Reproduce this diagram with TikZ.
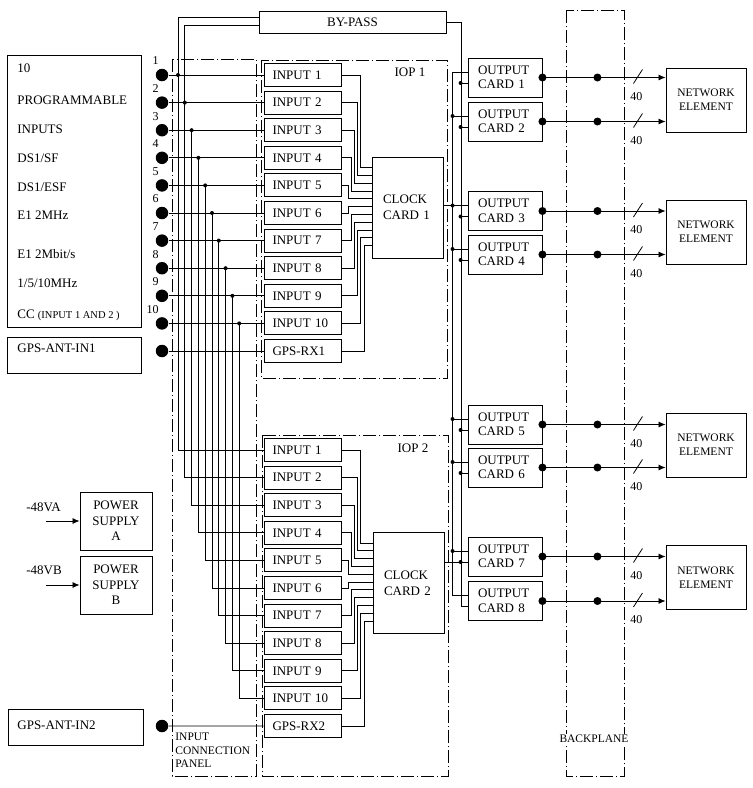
\documentclass[tikz,border=0pt]{standalone}
\usepackage{fontspec}
\setmainfont{Liberation Serif}
\usetikzlibrary{arrows.meta,calc,positioning}

\tikzset{
  panelframe/.style={line width=0.8pt, dash pattern=on 13pt off 3pt on 1pt off 3pt},
  plainbox/.style={draw, line width=0.9pt, fill=white, inner ysep=0pt},
  inbox/.style={plainbox, text width=60pt, inner xsep=8.5pt, minimum height=23pt, align=left},
  outbox/.style={plainbox, text width=54pt, inner xsep=10pt, minimum height=39pt, align=left},
  clockbox/.style={plainbox, text width=49pt, inner xsep=11pt, minimum height=101pt, align=left, font=\fontsize{13}{16}\selectfont},
  nebox/.style={plainbox, minimum width=80pt, minimum height=64pt, align=center, font=\fontsize{11.5}{14}\selectfont},
  psbox/.style={plainbox, minimum width=72pt, minimum height=58pt, align=center, font=\fontsize{13}{15.5}\selectfont},
  bigdot/.style={circle, fill, inner sep=0pt, minimum size=12.5pt},
  smalltxt/.style={font=\fontsize{11.5}{13.5}\selectfont},
  numtxt/.style={font=\fontsize{12}{14}\selectfont, inner sep=0pt},
}

\begin{document}
\begin{tikzpicture}[x=1pt, y=-1pt, line width=0.8pt, font=\fontsize{13}{14.5}\selectfont, >={Latex[length=7pt,width=6pt]}]
   \useasboundingbox (0,0) rectangle (753,788);

   \draw[panelframe] (172,59) rectangle (256,776);
   \draw[panelframe] (261,60) rectangle (447,378);
   \draw[panelframe] (262,435) rectangle (448,776);
   \draw[panelframe] (566,10) rectangle (624,776);

   \begin{scope}[every node/.style={anchor=west, inner sep=0pt}]
    \node[plainbox, minimum width=134pt, minimum height=272pt] (prog) at (7,191) {};
    \node (p1) at (17,68) {10};
    \node (p2) at (17,100) {PROGRAMMABLE};
    \node (p3) at (17,129) {INPUTS};
    \node (p4) at (17,158) {DS1/SF};
    \node (p5) at (17,187) {DS1/ESF};
    \node (p6) at (17,215) {E1 2MHz};
    \node (p7) at (17,254) {E1 2Mbit/s};
    \node (p8) at (17,283) {1/5/10MHz};
    \node (p9) at (17,315) {CC {\fontsize{10.5}{12}\selectfont(INPUT 1 AND 2 )}};
    \node[plainbox, minimum width=134pt, minimum height=36pt] (ant1) at (7,355) {};
    \node (ant1t) at (17,348) {GPS-ANT-IN1};
    \node[plainbox, minimum width=135pt, minimum height=36pt] (ant2) at (8,727) {};
    \node (ant2t) at (17,725) {GPS-ANT-IN2};
    \node (va) at (26,507) {-48VA};
    \node (vb) at (26,570) {-48VB};
    \node[smalltxt, align=left, anchor=north west] (icp) at (175,733) {INPUT\\CONNECTION\\PANEL};
   \end{scope}

   \node (iop1) at (410,72) {IOP 1};
   \node (iop2) at (413,448) {IOP 2};
   \node[smalltxt, fill=white, inner sep=1pt] (bpl) at (594,739) {BACKPLANE};

   \node[plainbox, minimum width=187pt, minimum height=22pt] (bypass) at (352.5,22) {BY-PASS};
   \node[clockbox] (cka) at (407.5,207.5) {CLOCK\\CARD 1};
   \node[clockbox] (ckb) at (408.5,583) {CLOCK\\CARD 2};
   \node[psbox] (psa) at (116,521) {POWER\\SUPPLY\\A};
   \node[psbox] (psb) at (116,585) {POWER\\SUPPLY\\B};
   \node[nebox] (ne1) at (706,100) {NETWORK\\ELEMENT};
   \node[nebox] (ne2) at (706,232) {NETWORK\\ELEMENT};
   \node[nebox] (ne3) at (706,445) {NETWORK\\ELEMENT};
   \node[nebox] (ne4) at (706,577.5) {NETWORK\\ELEMENT};

   \coordinate (pa) at (46,521);
   \coordinate (pb) at (46,585);
   \draw[->] (pa) -- (psa.west);
   \draw[->] (pb) -- (psb.west);

   \foreach \i in {1,...,11} {
    \pgfmathsetmacro{\ry}{75+(\i-1)*27.6}
    \pgfmathsetmacro{\rz}{\ry+375}
    \ifnum\i<11
     \node[inbox] (ia\i) at (302.5,\ry) {INPUT \i};
     \node[inbox] (ib\i) at (302.5,\rz) {INPUT \i};
    \else
     \node[inbox] (ia\i) at (302.5,\ry) {GPS-RX1};
     \node[inbox] (ib\i) at (302.5,\rz) {GPS-RX2};
    \fi
    \node[bigdot] (c\i) at (162,\ry) {};
   }
   \node[bigdot] (g2) at (162,726) {};
   \draw (g2) -- (ib11.west);

   \foreach \i in {1,...,10}
    \node[numtxt, anchor=east] (n\i) at ($(c\i)+(-3,-14)$) {\i};

   \foreach \i in {1,...,11} {
    \pgfmathsetmacro{\jog}{5+abs(\i-5.5)*3.2}
    \pgfmathsetmacro{\ent}{11+(\i-1)*7.8}
    \draw (c\i) -- (ia\i.west);
    \draw (ia\i.east) -- ++(\jog,0) |- ($(cka.north west)+(0,\ent)$);
    \draw (ib\i.east) -- ++(\jog,0) |- ($(ckb.north west)+(0,\ent)$);
   }

   \foreach \i in {1,...,10} {
    \pgfmathsetmacro{\bx}{178+(\i-1)*6.8}
    \coordinate (j\i) at (c\i -| \bx,0);
    \draw (j\i) |- (ib\i.west);
    \fill (j\i) circle (2pt);
   }
   \draw ($(bypass.west)+(0,-5)$) -| (j1);
   \draw ($(bypass.west)+(0,3)$) -| (j2);

   \foreach \k/\y in {1/77.5,2/121.5,3/211,4/254.5,5/424.5,6/467.5,7/556.5,8/601} {
    \node[outbox] (oc\k) at (505,\y) {OUTPUT\\CARD \k};
    \coordinate (u\k) at ($(oc\k.west)+(0,-5.5)$);
    \coordinate (l\k) at ($(oc\k.west)+(0,5.5)$);
   }

   \draw (u1) -- ++(-15,0) |- (u8);
   \draw (bypass.east) -- ++(15,0) |- (l8);
   \draw (cka.east |- u3) -- (u3);
   \draw (ckb.east |- l7) -- (l7);
   \foreach \k in {2,...,7} {
    \draw (u\k) -- ++(-15,0);
    \fill ($(u\k)+(-15,0)$) circle (2pt);
   }
   \foreach \k in {1,...,7} {
    \draw (l\k) -- ++(-7,0);
    \fill ($(l\k)+(-7,0)$) circle (2pt);
   }

   \foreach \k/\n in {1/1,2/1,3/2,4/2,5/3,6/3,7/4,8/4} {
    \draw[->] (oc\k.east) -- (oc\k.east -| ne\n.west);
    \fill (oc\k.east) circle (4pt) ($(oc\k.east)+(55,0)$) circle (4pt);
    \draw ($(oc\k.east)+(91,6)$) -- ++(9,-14);
    \node[numtxt] (w\k) at ($(oc\k.east)+(94,19)$) {40};
   }
\end{tikzpicture}
\end{document}
